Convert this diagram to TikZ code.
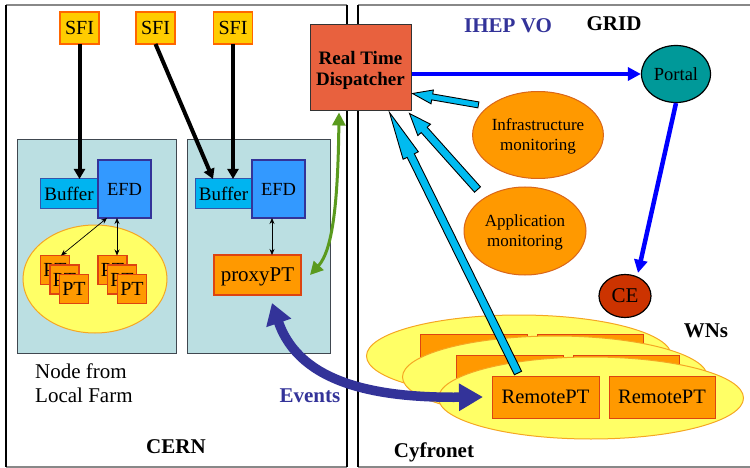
\documentclass[tikz,border=0pt]{standalone}
\usepackage{fontspec}
\setmainfont{Liberation Serif}
\usetikzlibrary{calc,arrows.meta,shapes.geometric}

\definecolor{sfifill}{HTML}{FFCC00}
\definecolor{sfiedge}{HTML}{FF6600}
\definecolor{panelfill}{HTML}{BBDFE2}
\definecolor{paneledge}{HTML}{404850}
\definecolor{bufferfill}{HTML}{00B4F0}
\definecolor{bufferedge}{HTML}{3355AA}
\definecolor{efdfill}{HTML}{3399FF}
\definecolor{efdedge}{HTML}{333399}
\definecolor{ptfill}{HTML}{FF9900}
\definecolor{ptedge}{HTML}{DD4411}
\definecolor{farmfill}{HTML}{FFFF66}
\definecolor{farmedge}{HTML}{F5A623}
\definecolor{monedge}{HTML}{D9661A}
\definecolor{dispfill}{HTML}{E8613E}
\definecolor{portalfill}{HTML}{009999}
\definecolor{cefill}{HTML}{CC3300}
\definecolor{gridblue}{HTML}{0000FF}
\definecolor{feedcyan}{HTML}{00BBF0}
\definecolor{eventblue}{HTML}{333399}
\definecolor{linkgreen}{HTML}{5A9A1E}
\definecolor{framegray}{HTML}{888888}

% fat outlined arrow: tail, tip, head length, head half width, shaft half width
\newcommand\feedarrow[5]{%
  \coordinate (fa-h) at ($(#2)!#3!(#1)$);
  \filldraw[fill=feedcyan, draw=black, line width=0.9pt, line join=miter]
    ($(#1)!#5!90:(#2)$) -- ($(fa-h)!#5!-90:(#1)$) -- ($(fa-h)!#4!-90:(#1)$)
    -- (#2) -- ($(fa-h)!#4!90:(#1)$) -- ($(fa-h)!#5!90:(#1)$)
    -- ($(#1)!#5!-90:(#2)$) -- cycle;
}

\tikzset{
  boxbase/.style={draw, rectangle, inner sep=0pt, outer sep=0pt, line width=1.2pt, text depth=0pt},
  sfibox/.style={boxbase, fill=sfifill, draw=sfiedge, line width=1.5pt,
    minimum width=39pt, minimum height=32pt, font=\fontsize{20}{24}\selectfont},
  panel/.style={boxbase, fill=panelfill, draw=paneledge, line width=1pt,
    minimum height=213pt},
  bufbox/.style={boxbase, fill=bufferfill, draw=bufferedge, line width=1pt,
    minimum width=58pt, minimum height=29pt, font=\fontsize{19}{22}\selectfont},
  efdbox/.style={boxbase, fill=efdfill, draw=efdedge, line width=1.5pt,
    minimum width=53pt, minimum height=58pt, font=\fontsize{18.5}{22}\selectfont},
  ptbox/.style={boxbase, fill=ptfill, draw=ptedge,
    minimum width=29pt, minimum height=29pt, font=\fontsize{20}{24}\selectfont},
  rptbox/.style={boxbase, fill=ptfill, draw=ptedge, line width=1pt,
    minimum width=107pt, minimum height=42pt, font=\fontsize{20.5}{24}\selectfont},
  pool/.style={ellipse, draw=farmedge, fill=farmfill, line width=1pt, inner sep=0pt},
  monitor/.style={ellipse, draw=monedge, fill=ptfill, line width=1pt, inner sep=0pt,
    minimum width=122pt, minimum height=87pt, align=center, text depth=0pt,
    font=\fontsize{17}{20}\selectfont},
  gridsite/.style={ellipse, draw=black, line width=1.2pt, inner sep=0pt, text depth=0pt},
  boldlabel/.style={anchor=base, inner sep=0pt, font=\bfseries\fontsize{21}{24}\selectfont},
  sfifeed/.style={black, line width=4pt, -{Triangle[length=10pt,width=11pt]}},
  probe/.style={black, line width=0.7pt,
    {Stealth[length=6pt,width=5pt]}-{Stealth[length=6pt,width=5pt]}},
  gridlink/.style={gridblue, line width=4.5pt, -{Triangle[length=13pt,width=13pt]}},
  steerlink/.style={linkgreen, line width=3pt,
    {Triangle[length=13pt,width=13pt]}-{Triangle[length=13pt,width=13pt]}},
  eventflow/.style={eventblue, line width=9.5pt,
    {Triangle[length=21pt,width=25pt]}-{Triangle[length=24pt,width=26pt]}}
}

\begin{document}
\begin{tikzpicture}[x=1pt,y=-1pt]
\useasboundingbox (0,0) rectangle (750,468);

% ---- site frames ----
\draw[framegray, line width=1.5pt] (6,5) -- (347,5) (6,467) -- (347,467)
  (358,5) -- (750,5) (358,467) -- (750,467);
\draw[black, line width=1.2pt] (6,5) -- (6,467) (347,5) -- (347,467) (358,5) -- (358,467);

% ---- CERN side: farm nodes ----
\node[panel, minimum width=159pt] (farmA) at (96.5,246.5) {};
\node[panel, minimum width=143pt] (farmB) at (258.5,246.5) {};

\node[sfibox] (sfiA) at (79.5,28) {SFI};
\node[sfibox] (sfiB) at (155.5,28) {SFI};
\node[sfibox] (sfiC) at (233,28) {SFI};

\node[bufbox] (bufA) at (69,193.5) {Buffer};
\node[bufbox, minimum width=57pt] (bufB) at (223.5,193.5) {Buffer};
\node[efdbox] (efdA) at (124.5,189) {EFD};
\node[efdbox] (efdB) at (278.5,189) {EFD};

\draw[sfifeed] (sfiA.south) -- (sfiA.south |- bufA.north);
\draw[sfifeed] (sfiB.south) -- ($(bufB.north west)+(18,0)$);
\draw[sfifeed] (sfiC.south) -- (sfiC.south |- bufB.north);

\node[pool, minimum width=144pt, minimum height=108pt] (poolA) at (95,279) {};
\node[ptbox] (ptA1) at (55,270) {PT};
\node[ptbox] (ptA2) at (64.5,279.5) {PT};
\node[ptbox] (ptA3) at (74,289) {PT};
\node[ptbox] (ptB1) at (112.5,270) {PT};
\node[ptbox] (ptB2) at (122,279.5) {PT};
\node[ptbox] (ptB3) at (132,289) {PT};

\draw[probe] ($(efdA.south west)+(9,0)$) -- ($(ptA1.north)+(6,0)$);
\draw[probe] ($(efdA.south west)+(19,0)$) -- ($(ptB1.north)+(4.5,0)$);

\node[boxbase, fill=ptfill, draw=ptedge, minimum width=87pt, minimum height=40pt,
  font=\fontsize{21}{24}\selectfont] (proxy) at (257.5,275) {proxyPT};
\draw[probe] ($(efdB.south west)+(20,0)$) -- ($(proxy.north)+(14.5,0)$);

\node[anchor=west, align=left, inner sep=0pt, text depth=0pt,
  font=\fontsize{21}{24}\selectfont] (farmnote) at (35,383) {Node from\\Local Farm};
\node[boldlabel] (cern) at (176,453) {CERN};

% ---- dispatcher ----
\node[draw=black!80, fill=dispfill, line width=1pt, inner sep=0pt,
  minimum width=101pt, minimum height=86pt, align=center, text depth=0pt,
  font=\bfseries\fontsize{19}{21}\selectfont] (disp) at (360.5,68) {Real Time\\Dispatcher};

\draw[steerlink] ($(disp.south)+(-21.5,1)$) .. controls (338,200) and (333,250) .. ($(proxy.east)+(9,0)$);

% ---- GRID side ----
\node[boldlabel, text=eventblue] (vo) at (508,33) {IHEP VO};
\node[boldlabel] (grid) at (614,31) {GRID};

\node[gridsite, fill=portalfill, minimum width=69pt, minimum height=57pt,
  font=\fontsize{18.5}{22}\selectfont] (portal) at (676,74) {Portal};
\node[gridsite, fill=cefill, minimum width=52pt, minimum height=43pt,
  font=\fontsize{21}{24}\selectfont] (ce) at (625,296) {CE};

\draw[gridlink] ($(disp.east)+(0,6)$) -- (portal.west);
\draw[gridlink] (portal.south) -- ($(ce.north)+(13,-1)$);

\node[monitor] (infra) at (538,135) {Infrastructure\\monitoring};
\node[monitor, minimum height=88pt] (appmon) at (525,231) {Application\\monitoring};

% ---- worker nodes ----
\node[pool, minimum width=305pt, minimum height=82pt] (wnC) at (519,356) {};
\node[rptbox] (rpC1) at (473.5,355) {};
\node[rptbox, minimum width=106pt] (rpC2) at (590,355) {};
\node[pool, minimum width=305pt, minimum height=82pt] (wnB) at (555,377) {};
\node[rptbox] (rpB1) at (509.5,376) {};
\node[rptbox, minimum width=106pt] (rpB2) at (626,376) {};
\node[pool, minimum width=305pt, minimum height=82pt] (wnA) at (591,398) {};

\node[boldlabel] (wns) at (706,337) {WNs};
\node[boldlabel] (cyf) at (434,457) {Cyfronet};

% ---- monitoring feeds into the dispatcher ----
\coordinate (infraTail) at ($(infra.north west)+(-13,1)$);
\coordinate (appTail) at ($(appmon.north west)+(-4,-10)$);
\coordinate (tipInfra) at ($(disp.south east)+(1,-18)$);
\coordinate (tipApp) at ($(disp.south east)+(-2,2)$);
\coordinate (tipRemote) at ($(disp.south east)+(-22,1)$);

\node[rptbox] (rpA1) at (545.5,397) {RemotePT};
\node[rptbox, minimum width=106pt] (rpA2) at (662,397) {RemotePT};

\coordinate (remoteTail) at ($(rpA1.north)+(-27.5,-3)$);

\feedarrow{infraTail}{tipInfra}{20pt}{7pt}{3pt}
\feedarrow{appTail}{tipApp}{22pt}{8.5pt}{4pt}
\feedarrow{remoteTail}{tipRemote}{48pt}{8.5pt}{4pt}

% ---- event traffic ----
\draw[eventflow] ($(proxy.south)+(14.5,8)$) .. controls (300,385) and (380,398) .. ($(rpA1.west)+(-9,0)$);
\node[boldlabel, text=eventblue] (events) at (310,402) {Events};

\end{tikzpicture}
\end{document}
